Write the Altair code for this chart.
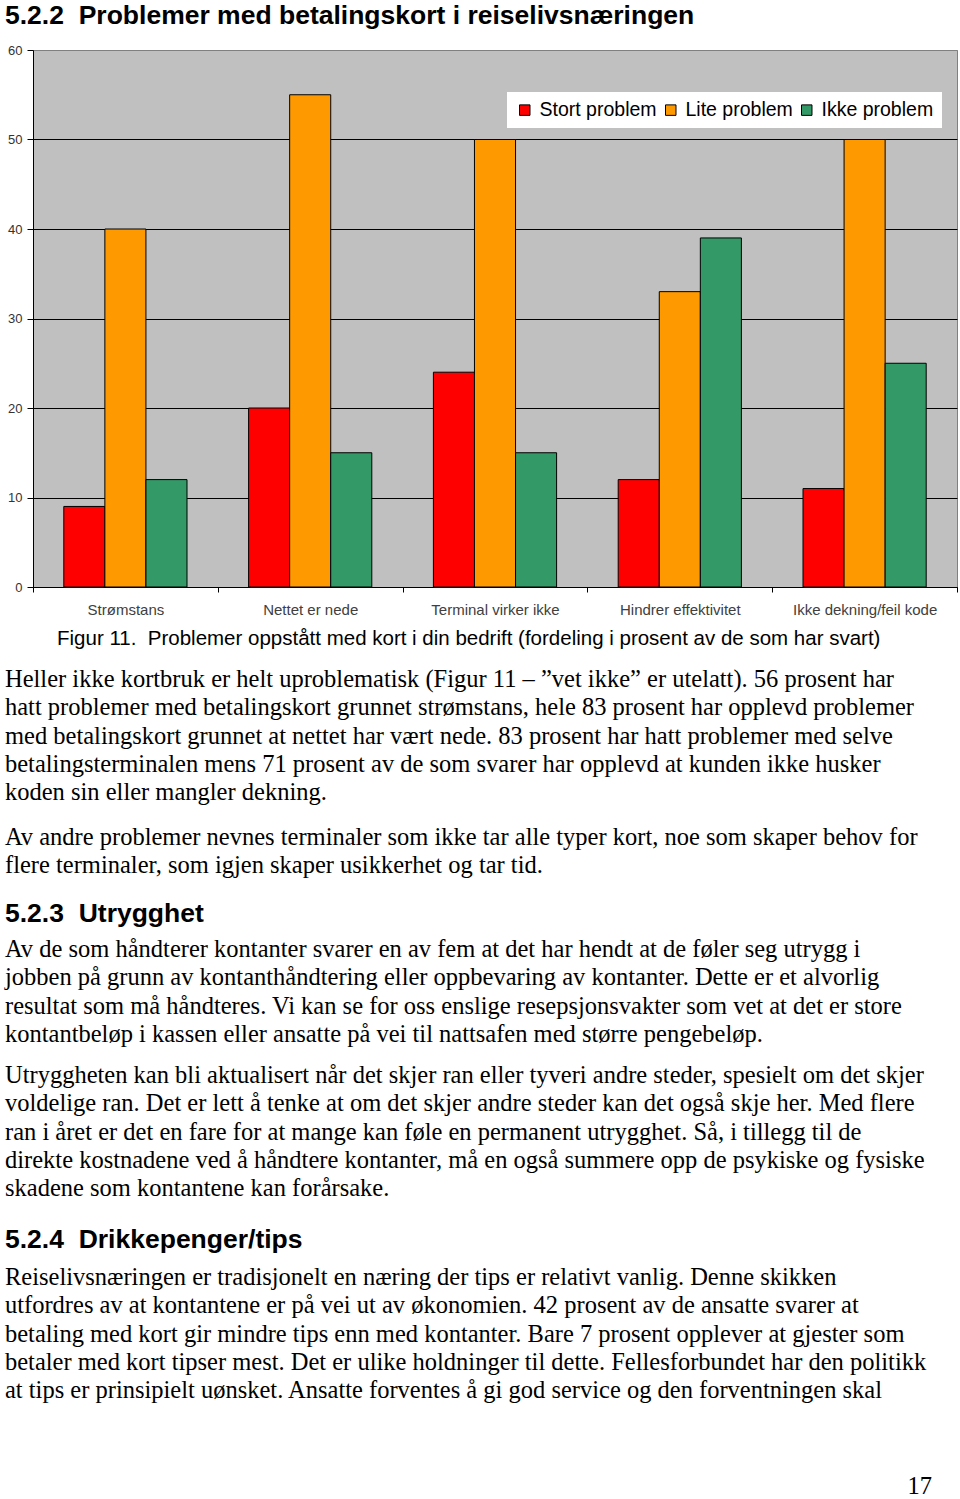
import altair as alt
import pandas as pd

# ---- chart data ----
categories = ["Strømstans", "Nettet er nede", "Terminal virker ikke",
              "Hindrer effektivitet", "Ikke dekning/feil kode"]
series = ["Stort problem", "Lite problem", "Ikke problem"]
stort_problem = [9, 20, 24, 12, 11]
lite_problem = [40, 55, 50, 33, 50]
ikke_problem = [12, 15, 15, 39, 25]
y_ticks = [0, 10, 20, 30, 40, 50, 60]
colors = ["#FF0000", "#FF9900", "#339966"]

# ---- page text ----
NB = "\u00a0"
heading_1 = "5.2.2" + NB * 2 + "Problemer med betalingskort i reiselivsnæringen"
caption = "Figur 11." + NB * 2 + "Problemer oppstått med kort i din bedrift (fordeling i prosent av de som har svart)"
para_1 = [
    "Heller ikke kortbruk er helt uproblematisk (Figur 11 – ”vet ikke” er utelatt). 56 prosent har",
    "hatt problemer med betalingskort grunnet strømstans, hele 83 prosent har opplevd problemer",
    "med betalingskort grunnet at nettet har vært nede. 83 prosent har hatt problemer med selve",
    "betalingsterminalen mens 71 prosent av de som svarer har opplevd at kunden ikke husker",
    "koden sin eller mangler dekning.",
]
para_2 = [
    "Av andre problemer nevnes terminaler som ikke tar alle typer kort, noe som skaper behov for",
    "flere terminaler, som igjen skaper usikkerhet og tar tid.",
]
heading_2 = "5.2.3" + NB * 2 + "Utrygghet"
para_3 = [
    "Av de som håndterer kontanter svarer en av fem at det har hendt at de føler seg utrygg i",
    "jobben på grunn av kontanthåndtering eller oppbevaring av kontanter. Dette er et alvorlig",
    "resultat som må håndteres. Vi kan se for oss enslige resepsjonsvakter som vet at det er store",
    "kontantbeløp i kassen eller ansatte på vei til nattsafen med større pengebeløp.",
]
para_4 = [
    "Utryggheten kan bli aktualisert når det skjer ran eller tyveri andre steder, spesielt om det skjer",
    "voldelige ran. Det er lett å tenke at om det skjer andre steder kan det også skje her. Med flere",
    "ran i året er det en fare for at mange kan føle en permanent utrygghet. Så, i tillegg til de",
    "direkte kostnadene ved å håndtere kontanter, må en også summere opp de psykiske og fysiske",
    "skadene som kontantene kan forårsake.",
]
heading_3 = "5.2.4" + NB * 2 + "Drikkepenger/tips"
para_5 = [
    "Reiselivsnæringen er tradisjonelt en næring der tips er relativt vanlig. Denne skikken",
    "utfordres av at kontantene er på vei ut av økonomien. 42 prosent av de ansatte svarer at",
    "betaling med kort gir mindre tips enn med kontanter. Bare 7 prosent opplever at gjester som",
    "betaler med kort tipser mest. Det er ulike holdninger til dette. Fellesforbundet har den politikk",
    "at tips er prinsipielt uønsket. Ansatte forventes å gi god service og den forventningen skal",
]
page_number = "17"

rows = []
for i, c in enumerate(categories):
    for s, vals in zip(series, [stort_problem, lite_problem, ikke_problem]):
        rows.append({"kategori": c, "serie": s, "verdi": vals[i]})
df = pd.DataFrame(rows)

SANS = "Liberation Sans"
SERIF = "Liberation Serif"

bars = alt.Chart(df).mark_bar(stroke="black", strokeWidth=1).encode(
    x=alt.X("kategori:N", sort=categories,
            scale=alt.Scale(paddingInner=0, paddingOuter=0),
            axis=alt.Axis(title=None, labelAngle=0, tickBand="extent",
                          labelFont=SANS, labelFontSize=15, labelColor="#404040",
                          labelPadding=10, tickSize=5, tickColor="black",
                          domainColor="black", grid=False)),
    xOffset=alt.XOffset("serie:N", sort=series,
                        scale=alt.Scale(paddingInner=0, paddingOuter=0.75)),
    y=alt.Y("verdi:Q", scale=alt.Scale(domain=[0, 60], nice=False),
            axis=alt.Axis(title=None, values=y_ticks, grid=True,
                          gridColor={"condition": {"test": "datum.value === 60", "value": "#808080"},
                                     "value": "black"},
                          labelFont=SANS, labelFontSize=13, labelColor="#333333",
                          labelPadding=5, tickSize=6, tickColor="black",
                          domainColor="black")),
    color=alt.Color("serie:N", sort=series,
                    scale=alt.Scale(domain=series, range=colors),
                    legend=alt.Legend(title=None, orient="none", legendX=474, legendY=42,
                                      direction="horizontal", fillColor="white",
                                      padding=8, columnPadding=4,
                                      symbolType="square", symbolSize=110,
                                      symbolStrokeColor="black", symbolStrokeWidth=1,
                                      symbolOffset=0, labelOffset=5,
                                      labelFont=SANS, labelFontSize=19.5, labelColor="black")),
)

one = pd.DataFrame({"k": [0]})


def text_layer(lines, x, y, font, size, weight="normal", align="left", line_height=28.3):
    return alt.Chart(one).mark_text(
        text=lines, font=font, fontSize=size, fontWeight=weight, align=align,
        baseline="alphabetic", lineHeight=line_height, color="black",
    ).encode(x=alt.value(x), y=alt.value(y))


ox, oy = 33, 50  # plot origin on the page
BODY = 24.5
HEAD = 26.5
layers = [
    bars,
    text_layer(heading_1, 5 - ox, 23.5 - oy, SANS, HEAD, "bold"),
    text_layer(caption, 57 - ox, 645 - oy, SANS, 20.5),
    text_layer(para_1, 5 - ox, 687 - oy, SERIF, BODY),
    text_layer(para_2, 5 - ox, 845 - oy, SERIF, BODY),
    text_layer(heading_2, 5 - ox, 922 - oy, SANS, HEAD, "bold"),
    text_layer(para_3, 5 - ox, 957 - oy, SERIF, BODY),
    text_layer(para_4, 5 - ox, 1083 - oy, SERIF, BODY),
    text_layer(heading_3, 5 - ox, 1248 - oy, SANS, HEAD, "bold"),
    text_layer(para_5, 5 - ox, 1285 - oy, SERIF, BODY),
    text_layer(page_number, 932 - ox, 1494 - oy, SERIF, BODY, align="right"),
]

chart = alt.layer(*layers).properties(
    width=924, height=537,
    autosize=alt.AutoSizeParams(type="none"),
    padding={"left": 33, "top": 50, "right": 3, "bottom": 912},
    background="white",
).configure_view(fill="#C0C0C0", stroke="#808080", strokeWidth=1)

chart.save("out.html", embed_options={"renderer": "svg", "actions": False})
